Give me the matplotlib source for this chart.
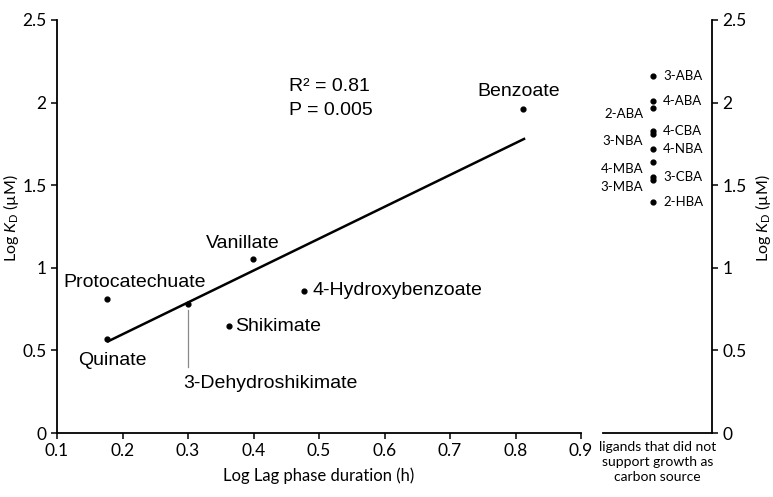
import matplotlib
matplotlib.use("Agg")
import matplotlib.pyplot as plt

# ligands that support growth: log lag phase (h) vs log KD (uM)
names = ["Protocatechuate", "Quinate", "3-Dehydroshikimate", "Shikimate",
         "Vanillate", "4-Hydroxybenzoate", "Benzoate"]
lag = [0.177, 0.177, 0.300, 0.362, 0.399, 0.477, 0.811]
kd = [0.81, 0.57, 0.78, 0.65, 1.055, 0.86, 1.96]

# regression line end points
fit_x = [0.178, 0.813]
fit_y = [0.555, 1.78]

# ligands that did not support growth
other_names = ["3-ABA", "4-ABA", "2-ABA", "4-CBA", "3-NBA", "4-NBA",
               "4-MBA", "3-CBA", "3-MBA", "2-HBA"]
other_kd = [2.16, 2.01, 1.97, 1.83, 1.81, 1.72, 1.64, 1.55, 1.53, 1.40]
other_side = ["r", "r", "l", "r", "l", "r", "l", "r", "l", "r"]

yticks = [0, 0.5, 1, 1.5, 2, 2.5]
xticks = [0.1, 0.2, 0.3, 0.4, 0.5, 0.6, 0.7, 0.8, 0.9]

ARIAL = ["Liberation Sans", "DejaVu Sans"]
MYRIAD = ["Lato", "DejaVu Sans"]
plt.rcParams["font.family"] = MYRIAD
plt.rcParams["mathtext.fontset"] = "custom"
plt.rcParams["mathtext.rm"] = "Lato"
plt.rcParams["mathtext.it"] = "Lato:italic"

KD_LABEL = r"Log $\mathit{K}_\mathrm{D}$ (µM)"

fig = plt.figure(figsize=(7.73, 4.97), dpi=100)
ax = fig.add_axes([57 / 773, 1 - 433 / 497, (581 - 57) / 773, 413 / 497])
ax2 = fig.add_axes([603 / 773, 1 - 433 / 497, (712 - 603) / 773, 413 / 497])

# main panel
ax.plot(fit_x, fit_y, color="black", lw=1.8, zorder=2)
ax.scatter(lag, kd, s=12, color="black", zorder=3)
ax.set_xlim(0.1, 0.9)
ax.set_ylim(0, 2.5)
ax.set_xticks(xticks)
ax.set_xticklabels([f"{t:g}" for t in xticks])
ax.set_yticks(yticks)
ax.set_yticklabels([f"{t:g}" for t in yticks])
for s in ["top", "right"]:
    ax.spines[s].set_visible(False)
for s in ["left", "bottom"]:
    ax.spines[s].set_linewidth(1.3)
ax.tick_params(direction="out", length=4, width=1.1, labelsize=12.5)
ax.set_xlabel("Log Lag phase duration (h)", fontsize=12, labelpad=6)
ax.set_ylabel(KD_LABEL, fontsize=11.5)
ax.yaxis.set_label_coords(-0.068, 0.52)

# data labels (x, y, ha) per compound
lab_pos = {
    "Protocatechuate": (0.218, 0.91, "center"),
    "Quinate": (0.184, 0.44, "center"),
    "3-Dehydroshikimate": (0.292, 0.30, "left"),
    "Shikimate": (0.372, 0.645, "left"),
    "Vanillate": (0.384, 1.15, "center"),
    "4-Hydroxybenzoate": (0.490, 0.86, "left"),
    "Benzoate": (0.805, 2.07, "center"),
}
for n in names:
    x, y, ha = lab_pos[n]
    ax.text(x, y, n, ha=ha, va="center", fontsize=14, family=ARIAL)

# leader line to 3-Dehydroshikimate
ax.plot([0.300, 0.300], [0.745, 0.40], color="#888888", lw=0.9)

ax.text(0.454, 2.10, "R² = 0.81", fontsize=14, family=ARIAL, va="center")
ax.text(0.454, 1.95, "P = 0.005", fontsize=14, family=ARIAL, va="center")

# right panel
ax2.scatter([0.46] * len(other_kd), other_kd, s=12, color="black")
for n, v, sd in zip(other_names, other_kd, other_side):
    if sd == "r":
        ax2.text(0.55, v, n, ha="left", va="center", fontsize=9.5)
    else:
        ax2.text(0.37, v - 0.04, n, ha="right", va="center", fontsize=9.5)
ax2.set_xlim(0, 1)
ax2.set_ylim(0, 2.5)
ax2.set_xticks([])
ax2.yaxis.tick_right()
ax2.yaxis.set_label_position("right")
ax2.set_yticks(yticks)
ax2.set_yticklabels([f"{t:g}" for t in yticks])
for s in ["top", "left"]:
    ax2.spines[s].set_visible(False)
for s in ["right", "bottom"]:
    ax2.spines[s].set_linewidth(1.3)
ax2.tick_params(direction="out", length=4, width=1.1, labelsize=12.5)
ax2.set_ylabel(KD_LABEL, fontsize=11.5, rotation=90)
ax2.yaxis.set_label_coords(1.375, 0.52)
ax2.set_xlabel("ligands that did not\nsupport growth as\ncarbon source",
               fontsize=10, labelpad=6, linespacing=1.3)

plt.savefig("out.png", dpi=100)
